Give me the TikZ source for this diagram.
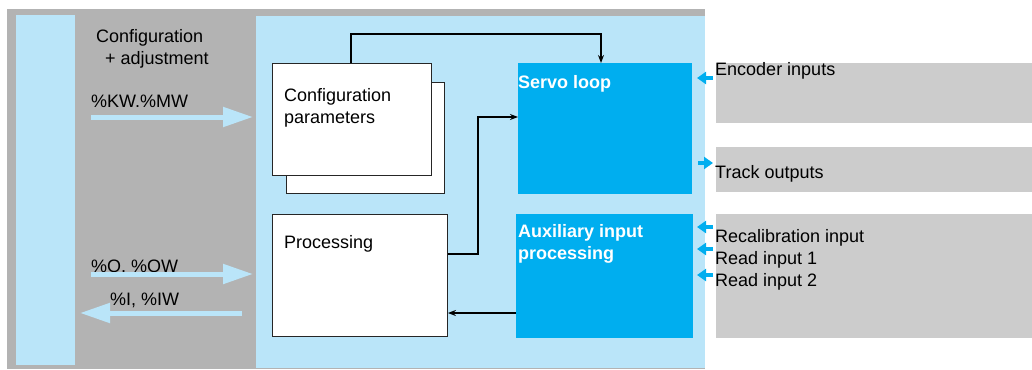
\documentclass[tikz,border=0pt]{standalone}
\usepackage{fontspec}
\setmainfont{Liberation Sans}
\usetikzlibrary{arrows.meta}
\definecolor{outergray}{HTML}{B3B3B3}
\definecolor{lightblue}{HTML}{BAE5F9}
\definecolor{brightblue}{HTML}{00AEEF}
\definecolor{boxgray}{HTML}{CCCCCC}
\tikzset{
  box/.style={draw=black!85, line width=0.9pt, fill=white, inner sep=0pt, anchor=north west},
  bluebox/.style={fill=brightblue, inner sep=0pt, anchor=north west},
  graybox/.style={fill=boxgray, inner sep=0pt, anchor=north west},
  txt/.style={anchor=base west, inner sep=0pt, font=\fontsize{18}{21}\selectfont},
  wtxt/.style={txt, text=white, font=\fontsize{18}{21}\selectfont\bfseries},
  conn/.style={line width=1.7pt, -{Stealth[length=8pt,width=6pt]}},
  bigarrow/.style={lightblue, line width=5pt, -{Triangle[length=30pt,width=19pt]}},
  smallarrow/.style={brightblue, line width=4.5pt, -{Triangle[length=9pt,width=12pt]}},
}
\begin{document}
\begin{tikzpicture}[x=1pt,y=-1pt]
\useasboundingbox (0,0) rectangle (1032,369);
% backgrounds
\fill[outergray] (7,9) rectangle (705,369);
\fill[lightblue] (16,15) rectangle (75,365);
\fill[lightblue] (256,16) rectangle (705,368);
% right gray boxes
\node[graybox, minimum width=316pt, minimum height=60pt] (enc) at (716,63) {};
\node[graybox, minimum width=316pt, minimum height=45pt] (trk) at (716,147) {};
\node[graybox, minimum width=316pt, minimum height=124pt] (aux2) at (716,214) {};
% white boxes
\node[box, minimum width=158pt, minimum height=111pt] (cfgback) at (286,82) {};
\node[box, minimum width=159pt, minimum height=112pt] (cfg) at (272,63) {};
\node[box, minimum width=175pt, minimum height=122pt] (proc) at (272,214) {};
% blue boxes
\node[bluebox, minimum width=174pt, minimum height=131pt] (servo) at (518,63) {};
\node[bluebox, minimum width=177pt, minimum height=124pt] (aux) at (516,214) {};
% texts
\node[txt] (t1) at (96,42) {Configuration};
\node[txt] (t2) at (105,64) {+ adjustment};
\node[txt] (t3) at (91,107) {\%KW.\%MW};
\node[txt] (t4) at (91,272) {\%O, \%QW};
\node[txt] (t5) at (110,305) {\%I, \%IW};
\node[txt] (t6) at (284,101) {Configuration};
\node[txt] (t7) at (284,123) {parameters};
\node[txt] (t8) at (284,248) {Processing};
\node[wtxt] (t9) at (518,88) {Servo loop};
\node[wtxt] (t10) at (518,237) {Auxiliary input};
\node[wtxt] (t11) at (518,259) {processing};
\node[txt] (t12) at (715,75) {Encoder inputs};
\node[txt] (t13) at (715,178) {Track outputs};
\node[txt] (t14) at (715,242) {Recalibration input};
\node[txt] (t15) at (715,264) {Read input 1};
\node[txt] (t16) at (715,286) {Read input 2};
% coordinates for connectors
\coordinate (c1) at (351,34);
\coordinate (c2) at (601,34);
\coordinate (c3) at (478,254);
\coordinate (c4) at (478,117);
\coordinate (c5) at (0,313);
% black connectors
\draw[conn] (cfg.north -| c1) -- (c1) -- (c2) -- (servo.north -| c2);
\draw[conn] (proc.east |- c3) -- (c3) -- (c4) -- (servo.west |- c4);
\draw[conn] (aux.west |- c5) -- (proc.east |- c5);
% big light-blue arrows
\coordinate (a1s) at (91,117); \coordinate (a1e) at (253,117);
\coordinate (a2s) at (91,274); \coordinate (a2e) at (253,274);
\coordinate (a3s) at (242,313); \coordinate (a3e) at (80,313);
\draw[bigarrow] (a1s) -- (a1e);
\draw[bigarrow] (a2s) -- (a2e);
\draw[bigarrow] (a3s) -- (a3e);
% small blue arrows
\coordinate (s1s) at (713,78); \coordinate (s1e) at (697,78);
\coordinate (s2s) at (698,163); \coordinate (s2e) at (713,163);
\coordinate (s3s) at (713,227); \coordinate (s3e) at (697,227);
\coordinate (s4s) at (713,249); \coordinate (s4e) at (697,249);
\coordinate (s5s) at (713,275); \coordinate (s5e) at (697,275);
\draw[smallarrow] (s1s) -- (s1e);
\draw[smallarrow] (s2s) -- (s2e);
\draw[smallarrow] (s3s) -- (s3e);
\draw[smallarrow] (s4s) -- (s4e);
\draw[smallarrow] (s5s) -- (s5e);
\end{tikzpicture}
\end{document}
